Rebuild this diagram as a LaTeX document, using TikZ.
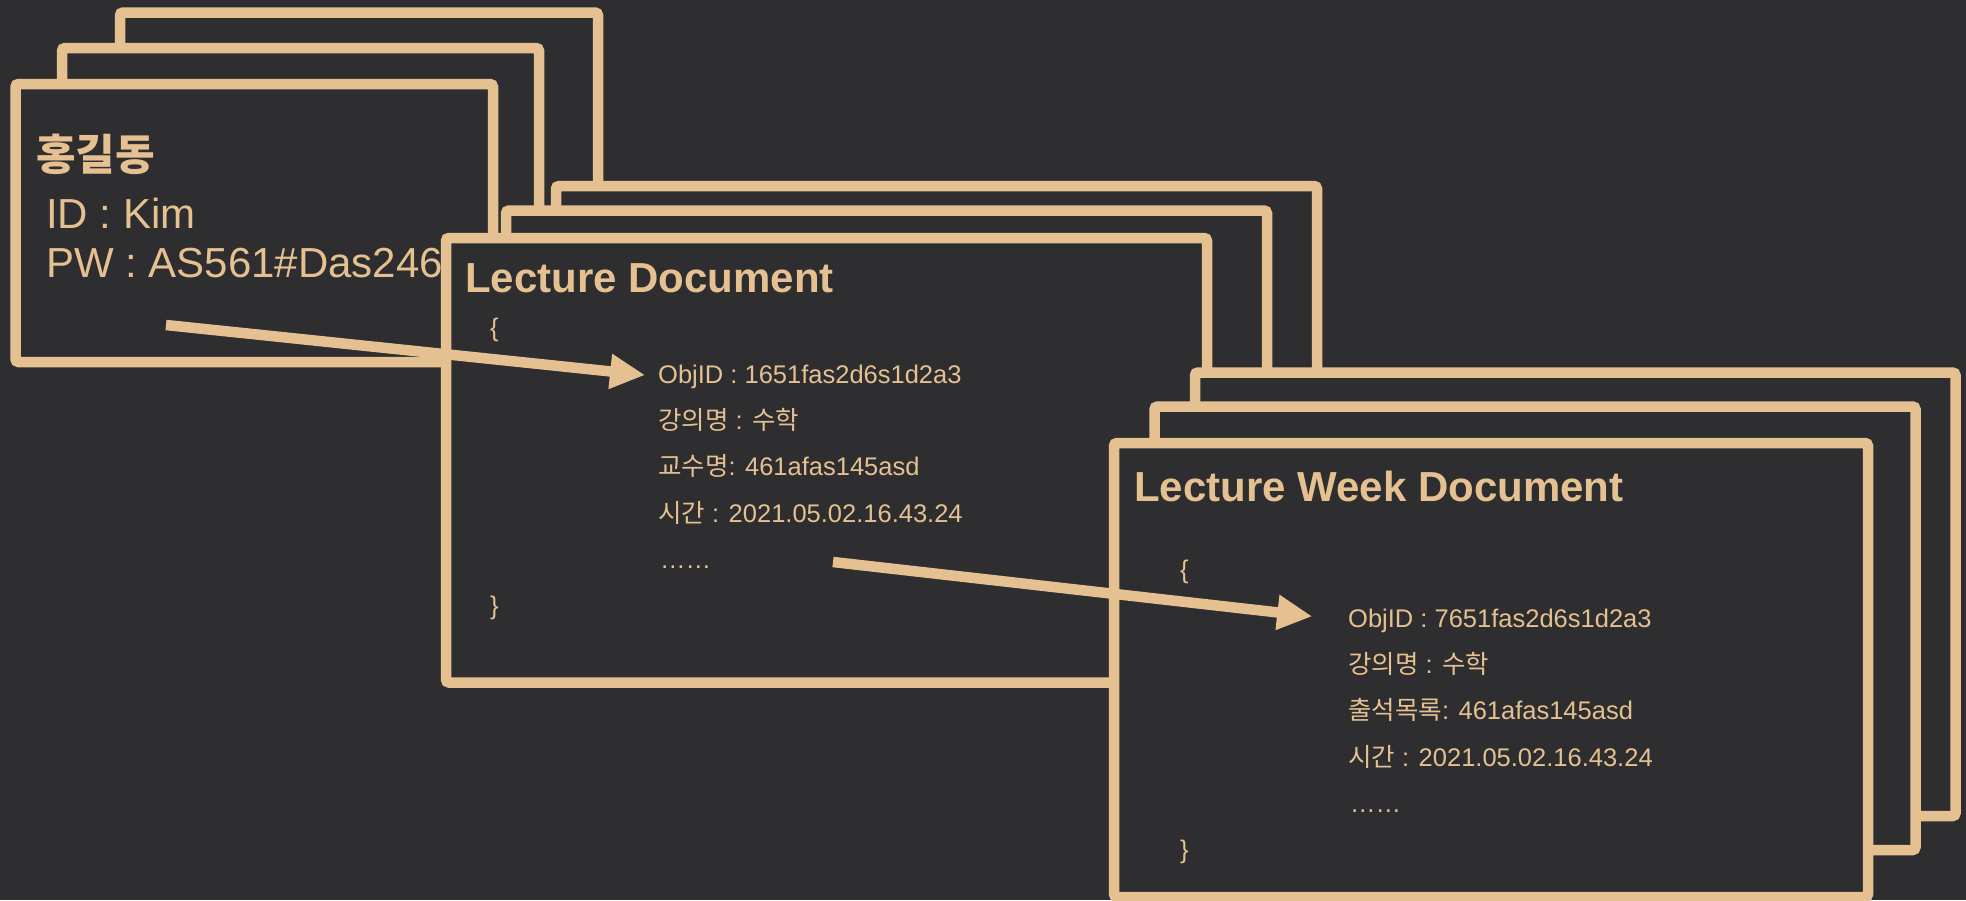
\documentclass[tikz,border=0pt]{standalone}
\usepackage{fontspec}
\setmainfont{Liberation Sans}
\newfontfamily\kr{Noto Sans CJK KR}
\usetikzlibrary{arrows.meta}
\definecolor{bg}{HTML}{2E2E30}
\definecolor{tan}{HTML}{E5C091}
\tikzset{
  card/.style={draw=tan, fill=bg, line width=10.5pt, rounded corners=3pt},
  txt/.style={text=tan, inner sep=0pt, anchor=base west},
  body/.style={txt, font=\fontsize{25.5}{30}\selectfont},
  ttl/.style={txt, font=\fontsize{42}{50}\selectfont\bfseries},
  link/.style={draw=tan, line width=10.5pt, -{Triangle[length=35pt,width=33pt]}},
}
\begin{document}
\begin{tikzpicture}[x=1pt,y=-1pt]
\useasboundingbox (0,0) rectangle (1966,900);
\fill[bg] (0,0) rectangle (1966,900);

% user cards
\path[card] (120,12.5) rectangle (598,290.5);
\path[card] (62,48) rectangle (539,326);
\path[card] (15.5,84) rectangle (493,362);
\node[txt, font=\kr\fontsize{43}{50}\selectfont\bfseries] (uname) at (36,170) {홍길동};
\node[txt, font=\fontsize{42}{50}\selectfont] (uid) at (46,228) {ID : Kim};
\node[txt, font=\fontsize{42}{50}\selectfont] (upw) at (46,277) {PW : AS561\#Das246};

% lecture cards
\path[card] (556,186) rectangle (1317,630.5);
\path[card] (506,210.5) rectangle (1267,655);
\path[card] (446,238) rectangle (1207,682.5);
\node[ttl] (lt) at (465,292) {Lecture Document};
\node[body] (lob) at (490,336.5) {\{};
\node[body] (l1) at (658,383) {ObjID : 1651fas2d6s1d2a3};
\node[body] (l2) at (658,429.5) {{\kr 강의명} : {\kr 수학}};
\node[body] (l3) at (658,475.7) {{\kr 교수명}: 461afas145asd};
\node[body] (l4) at (658,522) {{\kr 시간} : 2021.05.02.16.43.24};
\node[body] (l5) at (660,568) {……};
\node[body] (lcb) at (490,614.5) {\}};

% lecture week cards
\path[card] (1195,372.5) rectangle (1955.5,816);
\path[card] (1154.5,406.5) rectangle (1915.5,850);
\path[card] (1114,443) rectangle (1868,897);
\node[ttl] (wt) at (1134,501) {Lecture Week Document};
\node[body] (wob) at (1180,578) {\{};
\node[body] (w1) at (1348,627) {ObjID : 7651fas2d6s1d2a3};
\node[body] (w2) at (1348,673.3) {{\kr 강의명} : {\kr 수학}};
\node[body] (w3) at (1348,719.6) {{\kr 출석목록}: 461afas145asd};
\node[body] (w4) at (1348,766) {{\kr 시간} : 2021.05.02.16.43.24};
\node[body] (w5) at (1350,812) {……};
\node[body] (wcb) at (1180,858) {\}};

% connectors
\coordinate (s1) at (166,325);
\coordinate (s2) at (833,562);
\draw[link, shorten >=13pt] (s1) -- (l1.west);
\draw[link, shorten >=36pt] (s2) -- (w1.west);
\end{tikzpicture}
\end{document}
